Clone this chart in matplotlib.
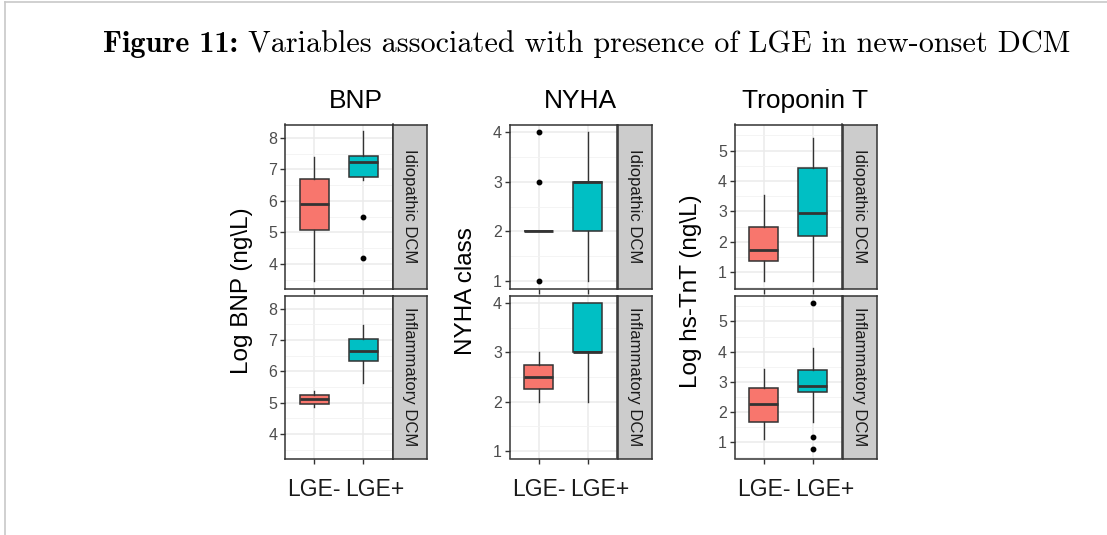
import matplotlib
matplotlib.use("Agg")
import matplotlib.pyplot as plt
import matplotlib.transforms as mtransforms
from matplotlib import font_manager
from matplotlib.ticker import MultipleLocator, FixedLocator

plt.rcParams["font.family"] = ["Liberation Sans", "DejaVu Sans"]

# data: box stats [whisker low, q1, median, q3, whisker high] for LGE-, LGE+
groups = ["LGE-", "LGE+"]
facets = ["Idiopathic DCM", "Inflammatory DCM"]

bnp_idio = [[3.45, 5.06, 5.90, 6.70, 7.38], [6.65, 6.74, 7.22, 7.41, 8.20]]
bnp_idio_out = [[], [5.50, 4.18]]
bnp_infl = [[4.86, 4.96, 5.12, 5.25, 5.38], [5.64, 6.32, 6.64, 7.04, 7.48]]
bnp_infl_out = [[], []]

nyha_idio = [[2.0, 2.0, 2.0, 2.0, 2.0], [1.0, 2.0, 3.0, 3.0, 4.0]]
nyha_idio_out = [[1.0, 3.0, 4.0], []]
nyha_infl = [[2.0, 2.25, 2.5, 2.75, 3.0], [2.0, 3.0, 3.0, 4.0, 4.0]]
nyha_infl_out = [[], []]

tnt_idio = [[0.70, 1.36, 1.72, 2.47, 3.54], [0.70, 2.18, 2.93, 4.44, 5.42]]
tnt_idio_out = [[], []]
tnt_infl = [[1.12, 1.66, 2.28, 2.80, 3.41], [1.66, 2.65, 2.86, 3.38, 4.13]]
tnt_infl_out = [[], [5.62, 1.16, 0.76]]

titles = ["BNP", "NYHA", "Troponin T"]
ylabels = ["Log BNP (ng\\L)", "NYHA class", "Log hs-TnT (ng\\L)"]
ylims = [(3.22, 8.42), (0.85, 4.15), (0.46, 5.86)]
yticks = [[4, 5, 6, 7, 8], [1, 2, 3, 4], [1, 2, 3, 4, 5]]
colors = ["#F8766D", "#00BFC4"]

W, H = 1107, 535
fig = plt.figure(figsize=(W / 100, H / 100), dpi=100)


def px(x0, y0, x1, y1):
    return [x0 / W, 1 - y1 / H, (x1 - x0) / W, (y1 - y0) / H]


# page frame lines
fig.add_artist(plt.Line2D([5 / W, 5 / W], [0, 1 - 2 / H], color="#C8C8C8", lw=1.2))
fig.add_artist(plt.Line2D([5 / W, 1], [1 - 2 / H, 1 - 2 / H], color="#C8C8C8", lw=1.2))

# caption
cap_y = 1 - 52 / H
t1 = fig.text(103 / W, cap_y, "Figure 11:", family="cmb10", fontsize=21.75, va="baseline")
fig.canvas.draw()
bb = t1.get_window_extent()
fig.text((bb.x1 + 10) / W, cap_y, "Variables associated with presence of LGE in new-onset DCM",
         family="cmr10", fontsize=21.75, va="baseline")

try:
    font_manager.findfont("Liberation Sans Narrow", fallback_to_default=False)
    xfont = "Liberation Sans Narrow"
except Exception:
    xfont = "Liberation Sans"

data = [
    [(bnp_idio, bnp_idio_out), (bnp_infl, bnp_infl_out)],
    [(nyha_idio, nyha_idio_out), (nyha_infl, nyha_infl_out)],
    [(tnt_idio, tnt_idio_out), (tnt_infl, tnt_infl_out)],
]
lefts = [285, 509.5, 734.5]
pw = 107.5
sw = 34.5
rows = [(124.5, 288.5), (295.5, 458.5)]
label_shift = [0, 12]  # px offset of group labels from their ticks

for c in range(3):
    x0 = lefts[c]
    for r in range(2):
        y0, y1 = rows[r]
        ax = fig.add_axes(px(x0, y0, x0 + pw, y1))
        stats_list, outs = data[c][r]
        bstats = []
        for g in range(2):
            s = stats_list[g]
            bstats.append(dict(whislo=s[0], q1=s[1], med=s[2], q3=s[3], whishi=s[4], fliers=outs[g]))
        bp = ax.bxp(bstats, positions=[1, 2], widths=0.6, patch_artist=True, showcaps=False,
                    boxprops=dict(edgecolor="#333333", linewidth=1.1),
                    medianprops=dict(color="#333333", linewidth=2.0, solid_capstyle="butt"),
                    whiskerprops=dict(color="#333333", linewidth=1.0),
                    flierprops=dict(marker="o", markersize=3.2, markerfacecolor="black",
                                    markeredgecolor="black"),
                    zorder=3)
        for patch, col in zip(bp["boxes"], colors):
            patch.set_facecolor(col)
        ax.set_xlim(0.4, 2.6)
        ax.set_ylim(*ylims[c])
        ax.yaxis.set_major_locator(FixedLocator(yticks[c]))
        ax.yaxis.set_minor_locator(MultipleLocator(0.5) if c != 1 else FixedLocator([1.5, 2.5, 3.5]))
        ax.set_xticks([1, 2])
        ax.set_xticklabels([])
        ax.grid(True, which="major", color="#EBEBEB", lw=1.1, zorder=0)
        ax.grid(True, which="minor", axis="y", color="#F2F2F2", lw=0.6, zorder=0)
        ax.set_axisbelow(True)
        ax.tick_params(axis="y", which="minor", length=0)
        ax.tick_params(axis="both", which="major", length=3.5, width=1, color="#333333",
                       labelsize=11.5, labelcolor="#4D4D4D", pad=2)
        if r == 1:
            for g in range(2):
                off = mtransforms.ScaledTranslation(label_shift[g] / 100, -19 / 100, fig.dpi_scale_trans)
                ax.text(g + 1, 0, groups[g], transform=ax.get_xaxis_transform() + off,
                        ha="center", va="top", family=xfont, fontsize=16.5, color="#1A1A1A")
        for sp in ax.spines.values():
            sp.set_color("#333333")
            sp.set_linewidth(1.1)
        # strip
        sax = fig.add_axes(px(x0 + pw + 0.5, y0, x0 + pw + sw, y1))
        sax.set_facecolor("#CCCCCC")
        sax.set_xticks([])
        sax.set_yticks([])
        for sp in sax.spines.values():
            sp.set_color("#333333")
            sp.set_linewidth(1.1)
        sax.text(0.5, 0.5, facets[r], rotation=-90, ha="center", va="center",
                 fontsize=12, color="#1A1A1A", transform=sax.transAxes)
    # column title and y label
    fig.text((x0 + (pw + sw) / 2) / W, 1 - 101 / H, titles[c], ha="center", va="center",
             fontsize=19, color="black")
    fig.text((x0 - 43) / W, 1 - 291 / H, ylabels[c], ha="center", va="center", rotation=90,
             fontsize=17.5, color="black")

fig.savefig("out.png", dpi=100, facecolor="white")
